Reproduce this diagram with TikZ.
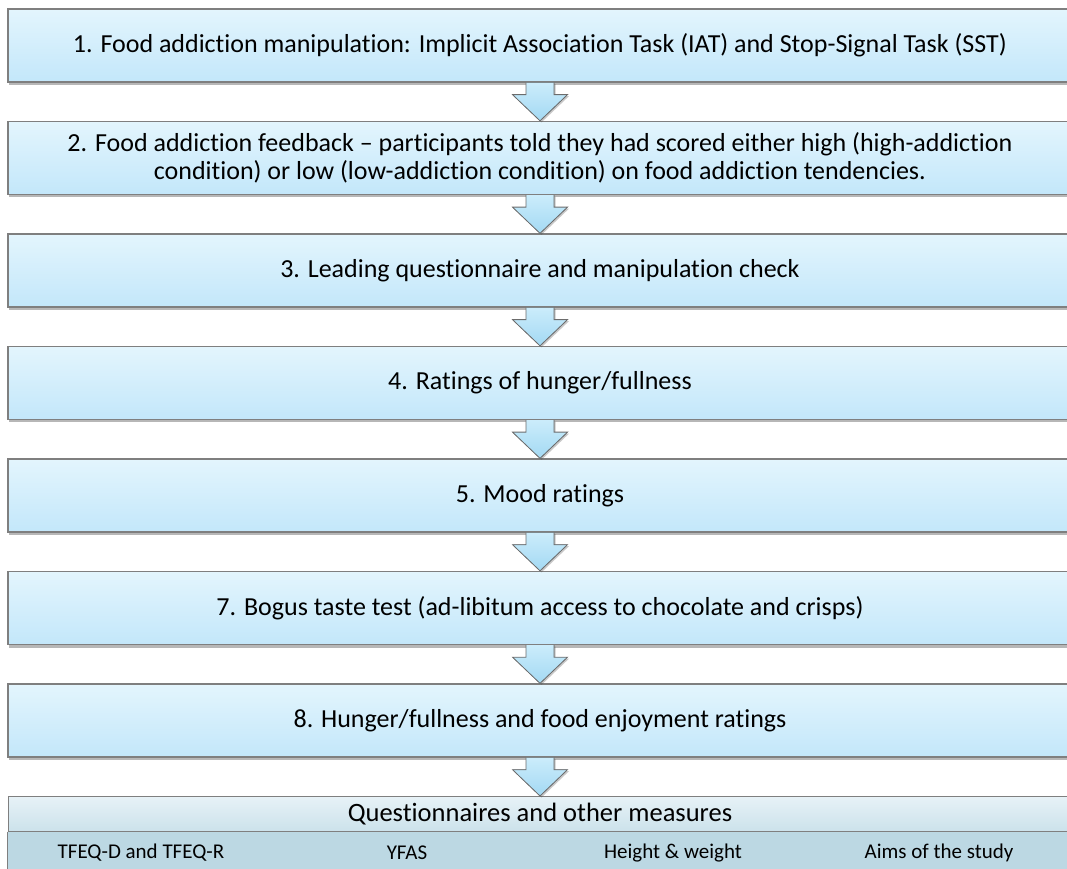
\documentclass[tikz,border=0pt]{standalone}
\usepackage{fontspec}
\setmainfont{Carlito}[Ligatures={NoCommon}]
\usetikzlibrary{calc,shadows}

\definecolor{boxtop}{HTML}{E3F5FD}
\definecolor{boxbot}{HTML}{C3E7FA}
\definecolor{boxline}{HTML}{7F7F7F}
\definecolor{arrtop}{HTML}{CBECFB}
\definecolor{arrbot}{HTML}{A3D9F3}
\definecolor{headtop}{HTML}{E7F2F7}
\definecolor{headbot}{HTML}{CCE2EB}
\definecolor{rowfill}{HTML}{BCD8E3}

\tikzset{
  stepbox/.style={draw=boxline, line width=1.3pt, top color=boxtop, bottom color=boxbot,
    minimum width=1064pt, minimum height=73pt, inner sep=0pt, align=center,
    font=\fontsize{26}{28.5}\selectfont,
    drop shadow={shadow xshift=0.5pt, shadow yshift=-3pt, opacity=0.4, fill=black!70}},
  headbox/.style={draw=boxline, line width=1pt, top color=headtop, bottom color=headbot,
    minimum width=1064pt, minimum height=34.5pt, inner sep=0pt,
    font=\fontsize{26.5}{30}\selectfont},
  rowcell/.style={fill=rowfill, minimum width=266pt, minimum height=44pt, inner sep=0pt,
    font=\fontsize{21}{24}\selectfont},
  flowfill/.style={top color=arrtop, bottom color=arrbot,
    drop shadow={shadow xshift=1.5pt, shadow yshift=-1.5pt, opacity=0.3, fill=black!70}},
  flowline/.style={draw=boxline!85!black, line width=0.8pt, line join=miter},
}

% block arrow from the bottom edge of one box to the top edge of the next
\newcommand{\flowarrow}[2]{%
  \fill[flowfill] ($(#1.south)+(-14,0)$) -- ($(#1.south)+(-14,-12)$) -- ($(#1.south)+(-27.5,-12)$)
    -- (#2.north) -- ($(#1.south)+(27.5,-12)$) -- ($(#1.south)+(14,-12)$) -- ($(#1.south)+(14,0)$) -- cycle;
  \draw[flowline] ($(#1.south)+(-14,0)$) -- ($(#1.south)+(-14,-12)$) -- ($(#1.south)+(-27.5,-12)$)
    -- (#2.north) -- ($(#1.south)+(27.5,-12)$) -- ($(#1.south)+(14,-12)$) -- ($(#1.south)+(14,0)$);
}

\begin{document}
\begin{tikzpicture}[x=1pt,y=1pt]
\useasboundingbox (0,0) rectangle (1067,868);
\clip (0,0) rectangle (1067,868);
\fill[white] (0,0) rectangle (1067,868);

\node[stepbox] (s1) at (540,822.5) {1. Food addiction manipulation: Implicit Association Task (IAT) and Stop-Signal Task (SST)};
\node[stepbox] (s2) at (540,710) {2. Food addiction feedback -- participants told they had scored either high (high-addiction\\condition) or low (low-addiction condition) on food addiction tendencies.};
\node[stepbox] (s3) at (540,597.5) {3. Leading questionnaire and manipulation check};
\node[stepbox] (s4) at (540,485) {4. Ratings of hunger/fullness};
\node[stepbox] (s5) at (540,372.5) {5. Mood ratings};
\node[stepbox] (s7) at (540,260) {7. Bogus taste test (ad-libitum access to chocolate and crisps)};
\node[stepbox] (s8) at (540,147.5) {8. Hunger/fullness and food enjoyment ratings};

% questionnaire block: heading with a row of four measures
\node[rowcell] (m1) at (141,15) {TFEQ-D and TFEQ-R};
\node[rowcell] (m2) at (407,15) {YFAS};
\node[rowcell] (m3) at (673,15) {Height \& weight};
\node[rowcell] (m4) at (939,15) {Aims of the study};
\node[headbox] (q) at (540,54.25) {Questionnaires and other measures};
\draw[boxline, line width=1pt] (q.south west) -- ++(0,-40);

\flowarrow{s1}{s2}
\flowarrow{s2}{s3}
\flowarrow{s3}{s4}
\flowarrow{s4}{s5}
\flowarrow{s5}{s7}
\flowarrow{s7}{s8}
\flowarrow{s8}{q}
\end{tikzpicture}
\end{document}
